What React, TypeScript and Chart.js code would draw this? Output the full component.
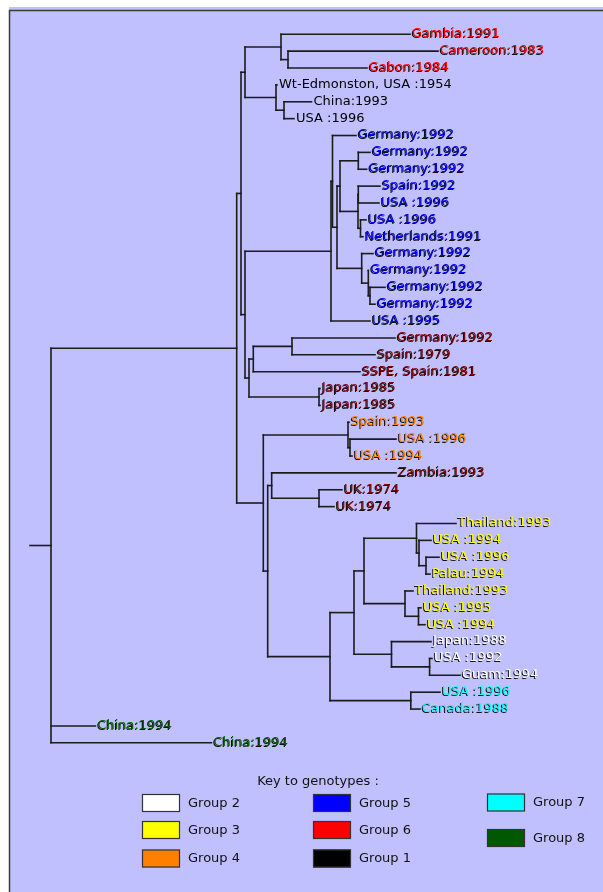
import React, { useEffect, useRef } from 'react';
import { Chart, registerables } from 'chart.js';
Chart.register(...registerables);

// ---- Tree data (depths measured from the root, leaves in row order) ----
const leafLabels = [
  'Gambia:1991', 'Cameroon:1983', 'Gabon:1984',
  'Wt-Edmonston, USA :1954', 'China:1993', 'USA :1996',
  'Germany:1992', 'Germany:1992', 'Germany:1992', 'Spain:1992', 'USA :1996', 'USA :1996',
  'Netherlands:1991', 'Germany:1992', 'Germany:1992', 'Germany:1992', 'Germany:1992', 'USA :1995',
  'Germany:1992', 'Spain:1979', 'SSPE, Spain:1981', 'Japan:1985', 'Japan:1985',
  'Spain:1993', 'USA :1996', 'USA :1994',
  'Zambia:1993', 'UK:1974', 'UK:1974',
  'Thailand:1993', 'USA :1994', 'USA :1996', 'Palau:1994', 'Thailand:1993', 'USA :1995', 'USA :1994',
  'Japan:1988', 'USA :1992', 'Guam:1994',
  'USA :1996', 'Canada:1988',
  'China:1994', 'China:1994',
];
const leafGroups = [
  'g6', 'g6', 'g6',
  'g1', 'g1', 'g1',
  'g5', 'g5', 'g5', 'g5', 'g5', 'g5', 'g5', 'g5', 'g5', 'g5', 'g5', 'g5',
  'other', 'other', 'other', 'other', 'other',
  'g4', 'g4', 'g4',
  'other', 'other', 'other',
  'g3', 'g3', 'g3', 'g3', 'g3', 'g3', 'g3',
  'g2', 'g2', 'g2',
  'g7', 'g7',
  'g8', 'g8',
];
const leafDepth = [
  359, 387, 316,
  226, 260.5, 243,
  305, 319, 315.7, 329, 328, 315, 312, 322, 317.5, 334, 324, 319,
  344, 324, 309, 269, 269,
  298, 345, 301,
  345, 291, 283,
  405, 380, 388, 379, 362, 370, 374,
  380, 381, 409,
  389, 369,
  44.4, 160.5,
];
const leafParent = [
  4, 5, 5,
  6, 7, 7,
  10, 13, 13, 15, 15, 16, 16, 17, 18, 19, 19, 9,
  22, 22, 21, 23, 23,
  25, 26, 26,
  28, 29, 29,
  33, 34, 35, 35, 36, 37, 37,
  38, 39, 39,
  40, 40,
  0, 0,
];
const nodeDepth = [
  0, 185.7, 190, 194, 230, 237, 225, 233, 194,
  280, 281.5, 286, 289, 307.3, 307, 307.3, 309.5, 310.7, 317.3, 319,
  198, 202.3, 241, 268,
  212.3, 297, 299, 216.7, 220.7, 268, 279, 303, 313,
  365.5, 368, 375, 354, 367.5, 340.5, 378.6, 359.8,
];
const nodeParent = [
  -1, 0, 1, 2, 3, 4, 3, 6, 2,
  8, 9, 10, 11, 12, 12, 14, 14, 11, 17, 18,
  8, 20, 21, 20,
  1, 24, 25, 24, 27, 28, 27, 30, 31,
  32, 33, 34, 32, 36, 31, 38, 30,
];
const rootStem = 21;

const groupColors: Record<string, string> = {
  g1: '#000000', g2: '#ffffff', g3: '#ffff00', g4: '#ff8000', g5: '#0000ff',
  g6: '#ff0000', g7: '#00ffff', g8: '#006000', other: '#7c0000',
};

const legendTitle = 'Key to genotypes :';
const legendLabels = ['Group 2', 'Group 3', 'Group 4', 'Group 5', 'Group 6', 'Group 1', 'Group 7', 'Group 8'];
const legendColors = ['#ffffff', '#ffff00', '#ff8000', '#0000ff', '#ff0000', '#000000', '#00ffff', '#005800'];

const W = 603;
const H = 892;
const rowTop = 34.3;
const rowStep = 16.869;
const rootPx = 51;

function buildSegments() {
  const n = nodeDepth.length;
  const mn = new Array(n).fill(Infinity);
  const mx = new Array(n).fill(-Infinity);
  const ny = new Array(n).fill(0);
  leafParent.forEach((p, i) => { mn[p] = Math.min(mn[p], i); mx[p] = Math.max(mx[p], i); });
  for (let k = n - 1; k >= 0; k--) {
    ny[k] = (mn[k] + mx[k]) / 2;
    const p = nodeParent[k];
    if (p >= 0) { mn[p] = Math.min(mn[p], ny[k]); mx[p] = Math.max(mx[p], ny[k]); }
  }
  const segs: { x: number; y: number }[][] = [];
  for (let k = 0; k < n; k++) {
    segs.push([{ x: nodeDepth[k], y: mn[k] }, { x: nodeDepth[k], y: mx[k] }]);
    const p = nodeParent[k];
    if (p >= 0) segs.push([{ x: nodeDepth[p], y: ny[k] }, { x: nodeDepth[k], y: ny[k] }]);
    else segs.push([{ x: -rootStem, y: ny[k] }, { x: nodeDepth[k], y: ny[k] }]);
  }
  leafParent.forEach((p, i) => {
    segs.push([{ x: nodeDepth[p], y: i }, { x: leafDepth[i], y: i }]);
  });
  return segs;
}

const decorPlugin = {
  id: 'decor',
  beforeDraw(chart: any) {
    const ctx = chart.ctx;
    ctx.save();
    ctx.fillStyle = '#ffffff';
    ctx.fillRect(0, 0, W, H);
    ctx.fillStyle = '#c0c0ff';
    ctx.fillRect(9, 7, W - 9, H - 7);
    ctx.strokeStyle = '#3a3a3a';
    ctx.lineWidth = 1.5;
    ctx.beginPath();
    ctx.moveTo(9.5, H);
    ctx.lineTo(9.5, 10.5);
    ctx.lineTo(W, 10.5);
    ctx.stroke();
    ctx.restore();
  },
  afterDraw(chart: any) {
    const ctx = chart.ctx;
    const xs = chart.scales.x;
    const ys = chart.scales.y;
    ctx.save();
    ctx.font = '13px "DejaVu Sans"';
    ctx.textBaseline = 'middle';
    ctx.textAlign = 'left';
    leafLabels.forEach((lab, i) => {
      const px = xs.getPixelForValue(leafDepth[i]) + 2;
      const py = ys.getPixelForValue(i) - 0.5;
      const g = leafGroups[i];
      if (g !== 'g1') {
        ctx.fillStyle = '#101010';
        ctx.fillText(lab, px - 1, py + 1);
      }
      ctx.fillStyle = groupColors[g];
      ctx.fillText(lab, px, py);
    });

    // legend
    ctx.fillStyle = '#111111';
    ctx.textAlign = 'center';
    ctx.fillText(legendTitle, 318, 781.5);
    ctx.textAlign = 'left';
    const colX = [142, 313, 487];
    const rowsA = [794, 821, 849.5];
    const rowsC = [793.5, 829];
    legendLabels.forEach((lab, i) => {
      const col = Math.floor(i / 3);
      const bx = colX[col];
      const by = col < 2 ? rowsA[i % 3] : rowsC[i - 6];
      ctx.fillStyle = legendColors[i];
      ctx.fillRect(bx, by, 38, 18);
      ctx.strokeStyle = '#333333';
      ctx.lineWidth = 1.2;
      ctx.strokeRect(bx + 0.5, by + 0.5, 37, 17);
      ctx.fillStyle = '#111111';
      ctx.fillText(lab, bx + 46, by + 9.5);
    });
    ctx.restore();
  },
};

export default function App() {
  const ref = useRef<HTMLCanvasElement | null>(null);
  useEffect(() => {
    if (!ref.current) return;
    const segs = buildSegments();
    const chart = new Chart(ref.current, {
      type: 'scatter',
      data: {
        datasets: segs.map((s) => ({
          data: s,
          showLine: true,
          borderColor: '#1c1c1c',
          borderWidth: 1.6,
          borderCapStyle: 'square',
          pointRadius: 0,
          pointHoverRadius: 0,
          fill: false,
        })) as any,
      },
      options: {
        animation: false,
        responsive: false,
        devicePixelRatio: 1,
        layout: { padding: 0 },
        plugins: { legend: { display: false }, tooltip: { enabled: false } },
        events: [],
        scales: {
          x: { type: 'linear', display: false, min: -rootPx, max: W - rootPx },
          y: {
            type: 'linear', display: false, reverse: true,
            min: -rowTop / rowStep, max: (H - rowTop) / rowStep,
          },
        },
      },
      plugins: [decorPlugin],
    });
    return () => chart.destroy();
  }, []);
  return (
    <div style={{ position: 'absolute', left: 0, top: 0, width: W, height: H }}>
      <canvas ref={ref} width={W} height={H} style={{ display: 'block' }} />
    </div>
  );
}
